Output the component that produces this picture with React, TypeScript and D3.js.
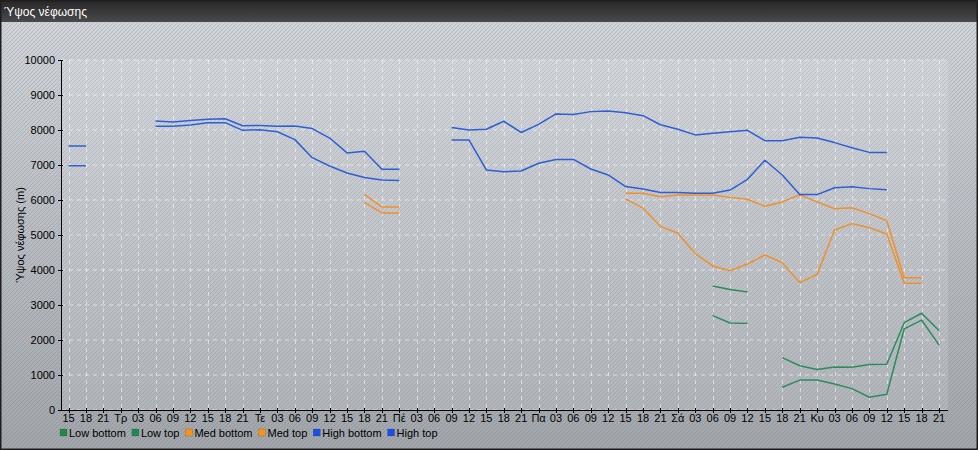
import { useEffect, useRef } from 'react';
import * as d3 from 'd3';

// x axis: one tick every 3 hours, Monday 15:00 -> Sunday 21:00
const tickLabels: string[] = [
  '15', '18', '21',
  'Τρ', '03', '06', '09', '12', '15', '18', '21',
  'Τε', '03', '06', '09', '12', '15', '18', '21',
  'Πέ', '03', '06', '09', '12', '15', '18', '21',
  'Πα', '03', '06', '09', '12', '15', '18', '21',
  'Σά', '03', '06', '09', '12', '15', '18', '21',
  'Κυ', '03', '06', '09', '12', '15', '18', '21',
];

const yTicks = [0, 1000, 2000, 3000, 4000, 5000, 6000, 7000, 8000, 9000, 10000];

const N = null;

const highTop: (number | null)[] = [
  7540, 7540, N, N, N, 8260, 8230, 8270, 8310, 8320, 8120, 8130, 8105, 8115, 8040, 7770, 7345,
  7390, 6880, 6880, N, N, 8070, 8000, 8020, 8250, 7930, 8160, 8460, 8440, 8525, 8545, 8495,
  8410, 8150, 8020, 7860, 7905, 7950, 7990, 7695, 7695, 7790, 7770, 7640, 7495, 7360, 7355,
  N, N, N,
];

const highBottom: (number | null)[] = [
  6980, 6980, N, N, N, 8105, 8105, 8145, 8210, 8210, 7990, 8010, 7950, 7725, 7210, 6970, 6770,
  6640, 6570, 6560, N, N, 7715, 7715, 6860, 6810, 6830, 7050, 7160, 7160, 6885, 6715, 6385,
  6315, 6215, 6215, 6190, 6190, 6285, 6590, 7135, 6715, 6155, 6155, 6350, 6380, 6325, 6295,
  N, N, N,
];

const medTop: (number | null)[] = [
  N, N, N, N, N, N, N, N, N, N, N, N, N, N, N, N, N,
  6160, 5800, 5800, N, N, N, N, N, N, N, N, N, N, N, N, 6195,
  6190, 6090, 6140, 6145, 6145, 6075, 6020, 5820, 5945, 6150, 5945, 5750, 5780, 5610, 5410,
  3780, 3780, N,
];

const medBottom: (number | null)[] = [
  N, N, N, N, N, N, N, N, N, N, N, N, N, N, N, N, N,
  5930, 5630, 5630, N, N, N, N, N, N, N, N, N, N, N, N, 6030,
  5770, 5245, 5050, 4470, 4115, 3980, 4170, 4430, 4210, 3640, 3875, 5145, 5325, 5210, 5030,
  3620, 3620, N,
];

const lowTop: (number | null)[] = [
  N, N, N, N, N, N, N, N, N, N, N, N, N, N, N, N, N,
  N, N, N, N, N, N, N, N, N, N, N, N, N, N, N, N,
  N, N, N, N, 3545, 3440, 3370, N, 1495, 1265, 1160, 1230, 1220, 1300, 1305,
  2495, 2765, 2270,
];

const lowBottom: (number | null)[] = [
  N, N, N, N, N, N, N, N, N, N, N, N, N, N, N, N, N,
  N, N, N, N, N, N, N, N, N, N, N, N, N, N, N, N,
  N, N, N, N, 2695, 2485, 2475, N, 650, 855, 855, 745, 610, 365, 450,
  2320, 2570, 1862,
];

const seriesNames = ['Low bottom', 'Low top', 'Med bottom', 'Med top', 'High bottom', 'High top'];
const seriesData = [lowBottom, lowTop, medBottom, medTop, highBottom, highTop];
const lineColors = ['#2b8d5b', '#2b8d5b', '#f0902c', '#f0902c', '#2d5fd8', '#2d5fd8'];
const legendColors = ['#1f8a48', '#22885a', '#f7921c', '#f7921c', '#1c4fe8', '#1c4fe8'];

const W = 978;
const H = 450;
const FONT = 'Arial, "Liberation Sans", sans-serif';

const App = () => {
  const svgRef = useRef<any>(null);

  useEffect(() => {
    const svg = d3.select(svgRef.current);
    svg.selectAll('*').remove();

    const plot = { left: 61, right: 948, top: 60, bottom: 410 };

    const x = d3.scaleLinear()
      .domain([0, tickLabels.length - 1])
      .range([68.5, 939]);

    const y = d3.scaleLinear()
      .domain([0, 10000])
      .range([plot.bottom, plot.top]);

    const defs = svg.append('defs');

    // body gradient
    const bg = defs.append('linearGradient').attr('id', 'bg').attr('x1', 0).attr('y1', 0).attr('x2', 0).attr('y2', 1);
    bg.append('stop').attr('offset', '0%').attr('stop-color', '#d2d6db');
    bg.append('stop').attr('offset', '100%').attr('stop-color', '#a2a6ab');

    // title bar gradient
    const tb = defs.append('linearGradient').attr('id', 'tb').attr('x1', 0).attr('y1', 0).attr('x2', 0).attr('y2', 1);
    tb.append('stop').attr('offset', '0%').attr('stop-color', '#262626');
    tb.append('stop').attr('offset', '100%').attr('stop-color', '#4a4a4a');

    // diagonal hatch
    const pat = defs.append('pattern')
      .attr('id', 'hatch')
      .attr('width', 4)
      .attr('height', 4)
      .attr('patternUnits', 'userSpaceOnUse');
    pat.append('path')
      .attr('d', 'M-1,1 l2,-2 M0,4 l4,-4 M3,5 l2,-2')
      .attr('stroke', 'rgba(90,100,115,0.22)')
      .attr('stroke-width', 1);

    svg.append('rect').attr('x', 0).attr('y', 0).attr('width', W).attr('height', H).attr('fill', 'url(#bg)');
    svg.append('rect').attr('x', 0).attr('y', 0).attr('width', W).attr('height', H).attr('fill', 'url(#hatch)');

    // plot area, a bit lighter
    svg.append('rect')
      .attr('x', plot.left)
      .attr('y', plot.top)
      .attr('width', plot.right - plot.left)
      .attr('height', plot.bottom - plot.top)
      .attr('fill', 'rgba(255,255,255,0.13)');

    // title bar
    svg.append('rect').attr('x', 0).attr('y', 0).attr('width', W).attr('height', 22).attr('fill', 'url(#tb)');
    svg.append('text')
      .attr('x', 4)
      .attr('y', 16)
      .attr('fill', '#ffffff')
      .style('font-family', FONT)
      .style('font-size', '12px')
      .text('Ύψος νέφωσης');

    // outer frame
    svg.append('rect')
      .attr('x', 0.5).attr('y', 0.5).attr('width', W - 1).attr('height', H - 1)
      .attr('fill', 'none').attr('stroke', '#1e1e1e').attr('stroke-width', 2);

    // grid
    const grid = svg.append('g');
    yTicks.forEach((v) => {
      grid.append('line')
        .attr('x1', plot.left).attr('x2', plot.right)
        .attr('y1', y(v)).attr('y2', y(v))
        .attr('stroke', 'rgba(255,255,255,0.55)')
        .attr('stroke-dasharray', '4,4');
    });
    tickLabels.forEach((_, i) => {
      grid.append('line')
        .attr('x1', Math.round(x(i)) + 0.5).attr('x2', Math.round(x(i)) + 0.5)
        .attr('y1', plot.top).attr('y2', plot.bottom)
        .attr('stroke', 'rgba(255,255,255,0.5)')
        .attr('stroke-dasharray', '4,4');
    });

    // series
    const line = d3.line<number | null>()
      .defined((d) => d != null)
      .x((d, i) => x(i))
      .y((d) => y(d as number));

    seriesData.forEach((arr, k) => {
      svg.append('path')
        .attr('d', line(arr))
        .attr('fill', 'none')
        .attr('stroke', lineColors[k])
        .attr('stroke-width', 1.5)
        .attr('stroke-linejoin', 'round');
    });

    // y axis
    const yAxis = svg.append('g');
    yAxis.append('line')
      .attr('x1', plot.left + 0.5).attr('x2', plot.left + 0.5)
      .attr('y1', plot.top).attr('y2', plot.bottom)
      .attr('stroke', '#000');
    yTicks.forEach((v) => {
      yAxis.append('line')
        .attr('x1', plot.left - 3).attr('x2', plot.left + 2)
        .attr('y1', Math.round(y(v)) + 0.5).attr('y2', Math.round(y(v)) + 0.5)
        .attr('stroke', '#000');
      yAxis.append('text')
        .attr('x', plot.left - 6)
        .attr('y', y(v) + 4)
        .attr('text-anchor', 'end')
        .attr('fill', '#000')
        .style('font-family', FONT)
        .style('font-size', '11px')
        .text(String(v));
    });

    svg.append('text')
      .attr('transform', `translate(24,${(plot.top + plot.bottom) / 2}) rotate(-90)`)
      .attr('text-anchor', 'middle')
      .attr('fill', '#000')
      .style('font-family', FONT)
      .style('font-size', '11px')
      .text('Ύψος νέφωσης (m)');

    // x axis
    const xAxis = svg.append('g');
    xAxis.append('line')
      .attr('x1', plot.left).attr('x2', plot.right)
      .attr('y1', plot.bottom + 0.5).attr('y2', plot.bottom + 0.5)
      .attr('stroke', '#000');
    tickLabels.forEach((lbl, i) => {
      const px = Math.round(x(i)) + 0.5;
      xAxis.append('line')
        .attr('x1', px).attr('x2', px)
        .attr('y1', plot.bottom - 2).attr('y2', plot.bottom + 3)
        .attr('stroke', '#000');
      xAxis.append('text')
        .attr('x', x(i))
        .attr('y', plot.bottom + 12)
        .attr('text-anchor', 'middle')
        .attr('fill', '#000')
        .style('font-family', FONT)
        .style('font-size', '11px')
        .text(lbl);
    });

    // legend
    const legend = svg.append('g');
    let lx = 60;
    seriesNames.forEach((name, k) => {
      legend.append('rect')
        .attr('x', lx).attr('y', 429)
        .attr('width', 7).attr('height', 7)
        .attr('fill', legendColors[k])
        .attr('stroke', 'rgba(0,0,0,0.25)')
        .attr('stroke-width', 0.5);
      const t = legend.append('text')
        .attr('x', lx + 9)
        .attr('y', 436.5)
        .attr('fill', '#000')
        .style('font-family', FONT)
        .style('font-size', '11px')
        .text(name);
      const w = (t.node() as SVGTextElement).getComputedTextLength();
      lx += 9 + w + 6;
    });
  }, []);

  return (
    <div style={{ position: 'absolute', left: 0, top: 0, width: W, height: H }}>
      <svg ref={svgRef} width={W} height={H} style={{ display: 'block' }} />
    </div>
  );
};

export default App;
